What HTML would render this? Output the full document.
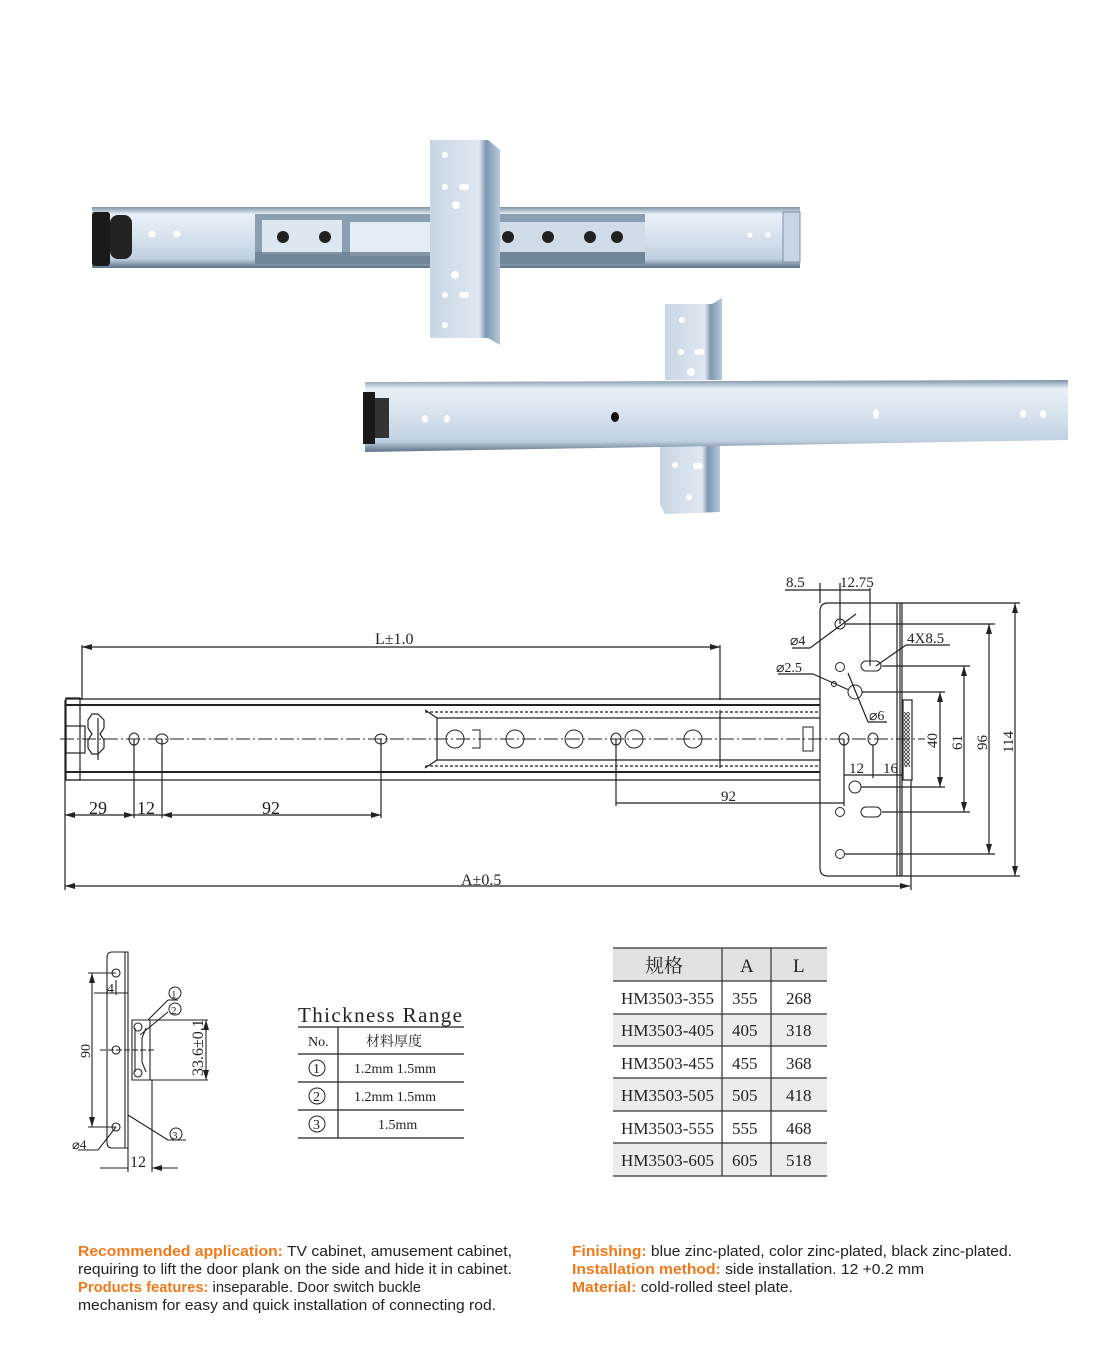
<!DOCTYPE html>
<html><head><meta charset="utf-8"><style>
html,body{margin:0;padding:0;background:#fff}
svg{display:block}
.t{font-family:"Liberation Serif","Noto Serif CJK SC",serif;fill:#222}
.s{font-family:"Liberation Sans",sans-serif;font-size:15px;fill:#222}
.o{fill:#f07a1a;font-weight:bold}
</style></head><body>
<svg width="1111" height="1368" viewBox="0 0 1111 1368" xmlns="http://www.w3.org/2000/svg">
<defs>
<linearGradient id="rail" x1="0" y1="0" x2="0" y2="1">
<stop offset="0" stop-color="#7e94a8"/><stop offset="0.12" stop-color="#e8f0f8"/><stop offset="0.5" stop-color="#d6e2ee"/><stop offset="0.85" stop-color="#c0d0e0"/><stop offset="1" stop-color="#5e7386"/></linearGradient>
<linearGradient id="br" x1="0" y1="0" x2="1" y2="0">
<stop offset="0" stop-color="#c8d6e4"/><stop offset="0.7" stop-color="#dfe8f2"/><stop offset="0.8" stop-color="#7f98b0"/><stop offset="1" stop-color="#b6c8da"/></linearGradient>
<marker id="a" markerWidth="10" markerHeight="6" refX="10" refY="3" orient="auto-start-reverse" markerUnits="userSpaceOnUse"><path d="M0,0 L10,3 L0,6z" fill="#222"/></marker>
<pattern id="h" width="4" height="4" patternUnits="userSpaceOnUse"><path d="M0,4 L4,0 M0,0 L4,4" stroke="#333" stroke-width="0.8"/></pattern>
</defs>

<!-- PHOTO 1 -->
<rect x="92" y="207" width="708" height="61" fill="url(#rail)"/>
<rect x="255" y="214" width="390" height="50" fill="#8a9fb2"/>
<rect x="262" y="220" width="80" height="34" fill="#dde7f1"/>
<rect x="350" y="222" width="80" height="34" fill="#e4ecf4"/>
<rect x="500" y="222" width="145" height="30" fill="#d0dce8"/>
<rect x="255" y="252" width="390" height="12" fill="#6b7f92" opacity="0.8"/>
<circle cx="283" cy="237" r="6" fill="#222"/><circle cx="325" cy="237" r="6" fill="#222"/>
<circle cx="508" cy="237" r="6" fill="#222"/><circle cx="548" cy="237" r="6" fill="#222"/><circle cx="590" cy="237" r="6" fill="#222"/><circle cx="617" cy="237" r="6" fill="#222"/>
<rect x="92" y="212" width="18" height="54" fill="#1a1a1a" rx="3"/>
<rect x="110" y="215" width="22" height="44" rx="8" fill="#222"/>
<circle cx="152" cy="234" r="3.5" fill="#fff"/><circle cx="177" cy="234" r="3.5" fill="#fff"/>
<circle cx="750" cy="235" r="2.5" fill="#fff"/><circle cx="768" cy="235" r="2.5" fill="#fff"/>
<rect x="783" y="212" width="17" height="50" fill="#c7d5e3" stroke="#7d93a8"/>
<path d="M430,140 L488,140 L500,150 L500,345 L488,338 L430,338 Z" fill="url(#br)"/>
<circle cx="445" cy="155" r="3" fill="#fff"/><circle cx="445" cy="187" r="3" fill="#fff"/><rect x="459" y="184" width="10" height="6" rx="3" fill="#fff"/><circle cx="456" cy="205" r="4" fill="#fff"/><circle cx="455" cy="275" r="4" fill="#fff"/><circle cx="445" cy="295" r="3" fill="#fff"/><rect x="459" y="292" width="10" height="6" rx="3" fill="#fff"/><circle cx="445" cy="325" r="3" fill="#fff"/>

<!-- PHOTO 2 -->
<path d="M665,304 L712,304 L722,298 L722,380 L665,380 Z" fill="url(#br)"/>
<path d="M660,440 L720,440 L720,512 L665,514 L660,505 Z" fill="url(#br)"/>
<circle cx="682" cy="320" r="3" fill="#fff"/><circle cx="681" cy="352" r="3" fill="#fff"/><rect x="694" y="349" width="10" height="6" rx="3" fill="#fff"/><circle cx="691" cy="372" r="4" fill="#fff"/>
<circle cx="675" cy="465" r="3" fill="#fff"/><rect x="693" y="463" width="10" height="6" rx="3" fill="#fff"/><circle cx="590" cy="0" r="0"/><circle cx="689" cy="497" r="3" fill="#fff"/>
<path d="M365,382 L1068,380 L1068,440 L365,452 Z" fill="url(#rail)"/>
<rect x="363" y="392" width="12" height="52" fill="#1a1a1a"/><rect x="375" y="398" width="14" height="40" fill="#333"/>
<ellipse cx="425" cy="419" rx="3" ry="4" fill="#fff"/><ellipse cx="447" cy="419" rx="3" ry="4" fill="#fff"/>
<ellipse cx="615" cy="417" rx="4" ry="5" fill="#111"/>
<ellipse cx="876" cy="414" rx="3" ry="5" fill="#fff"/><ellipse cx="1023" cy="414" rx="3" ry="4" fill="#fff"/><ellipse cx="1043" cy="414" rx="3" ry="4" fill="#fff"/>

<!-- MAIN DRAWING -->
<g stroke="#222" fill="none" stroke-width="1.2">
<line x1="82" y1="647" x2="720" y2="647" marker-start="url(#a)" marker-end="url(#a)"/>
<line x1="82" y1="645" x2="82" y2="700"/><line x1="720" y1="645" x2="720" y2="700"/>
<line x1="65" y1="699" x2="820" y2="699"/><line x1="65" y1="705" x2="820" y2="705" stroke-width="2"/>
<line x1="65" y1="772" x2="820" y2="772" stroke-width="2"/><line x1="65" y1="780" x2="820" y2="780"/>
<rect x="66" y="698" width="14" height="82"/><rect x="66" y="726" width="19" height="27"/>
<path d="M92,714 h6 l6,6 v8 l-4,6 l4,6 v8 l-6,6 h-6 l-4,-6 v-8 l4,-6 l-4,-6 v-8z"/>
<line x1="98" y1="718" x2="98" y2="760"/>
<path d="M425,710 L437,718 L437,760 L425,768" />
<line x1="437" y1="718" x2="820" y2="718"/><line x1="437" y1="760" x2="820" y2="760"/>
<line x1="720" y1="710" x2="720" y2="768"/>
<line x1="425" y1="712" x2="820" y2="712" stroke-dasharray="3 2"/><line x1="425" y1="766" x2="820" y2="766" stroke-dasharray="3 2"/>
<g stroke-width="1"><circle cx="455" cy="739" r="9"/><circle cx="515" cy="739" r="9"/><circle cx="574" cy="739" r="9"/><circle cx="634" cy="739" r="9"/><circle cx="693" cy="739" r="9"/>
<path d="M472,730 h8 v18 h-8"/><ellipse cx="616" cy="739" rx="5" ry="6"/><rect x="803" y="727" width="10" height="24"/>
<ellipse cx="134" cy="739" rx="5" ry="6"/><ellipse cx="162" cy="739" rx="6" ry="5"/><ellipse cx="381" cy="739" rx="6" ry="5"/>
<ellipse cx="844" cy="739" rx="5" ry="6"/><ellipse cx="873" cy="739" rx="5" ry="6"/></g>
<line x1="60" y1="739" x2="925" y2="739" stroke-width="0.9" stroke-dasharray="14 3 2 3"/>
<line x1="65" y1="700" x2="65" y2="890"/>
<line x1="134" y1="739" x2="134" y2="818"/><line x1="162" y1="739" x2="162" y2="818"/><line x1="381" y1="739" x2="381" y2="818"/>
<line x1="65" y1="815" x2="134" y2="815" marker-start="url(#a)" marker-end="url(#a)"/>
<line x1="134" y1="815" x2="162" y2="815"/>
<line x1="162" y1="815" x2="381" y2="815" marker-start="url(#a)" marker-end="url(#a)"/>
<line x1="65" y1="886" x2="910" y2="886" marker-start="url(#a)" marker-end="url(#a)"/>
<line x1="911" y1="780" x2="911" y2="890"/>
<line x1="616" y1="739" x2="616" y2="806"/><line x1="844" y1="739" x2="844" y2="806"/>
<line x1="616" y1="803" x2="844" y2="803"/>
<path d="M828,603 H900 V876 H828 Q820,876 820,868 V611 Q820,603 828,603Z"/>
<line x1="897" y1="603" x2="897" y2="876"/><line x1="902" y1="603" x2="902" y2="876"/>
<rect x="903" y="700" width="9" height="80"/><rect x="904" y="712" width="6" height="55" fill="url(#h)" stroke="none"/>
<g stroke-width="1"><circle cx="840" cy="624" r="5"/><circle cx="840" cy="667" r="4.5"/><circle cx="855" cy="692" r="7"/><circle cx="855" cy="787" r="6"/><circle cx="840" cy="812" r="4.5"/><circle cx="840" cy="854" r="4.5"/>
<rect x="861" y="661" width="20" height="10" rx="5"/><rect x="861" y="807" width="20" height="10" rx="5"/><circle cx="834" cy="684" r="2.5"/></g>
<line x1="900" y1="603" x2="1020" y2="603"/><line x1="900" y1="876" x2="1020" y2="876"/>
<line x1="845" y1="624" x2="995" y2="624"/><line x1="845" y1="854" x2="995" y2="854"/>
<line x1="882" y1="666" x2="970" y2="666"/><line x1="882" y1="812" x2="970" y2="812"/>
<line x1="862" y1="692" x2="945" y2="692"/><line x1="861" y1="787" x2="945" y2="787"/>
<line x1="1015" y1="603" x2="1015" y2="876" marker-start="url(#a)" marker-end="url(#a)"/>
<line x1="989" y1="624" x2="989" y2="854" marker-start="url(#a)" marker-end="url(#a)"/>
<line x1="964" y1="666" x2="964" y2="812" marker-start="url(#a)" marker-end="url(#a)"/>
<line x1="940" y1="692" x2="940" y2="787" marker-start="url(#a)" marker-end="url(#a)"/>
<line x1="820" y1="583" x2="820" y2="603"/><line x1="840" y1="583" x2="840" y2="624"/><line x1="870" y1="588" x2="870" y2="666"/>
<line x1="785" y1="590" x2="820" y2="590"/><line x1="820" y1="590" x2="870" y2="590"/>
<line x1="792" y1="648" x2="810" y2="648"/><line x1="810" y1="648" x2="856" y2="614"/>
<line x1="906" y1="645" x2="950" y2="645"/><line x1="906" y1="645" x2="876" y2="666"/>
<line x1="778" y1="674" x2="813" y2="674"/><line x1="813" y1="674" x2="849" y2="690"/>
<line x1="848" y1="673" x2="868" y2="722"/><line x1="868" y1="722" x2="887" y2="722"/>
<line x1="844" y1="775" x2="844" y2="775"/><line x1="873" y1="745" x2="873" y2="778"/>
<line x1="844" y1="775" x2="903" y2="775"/>
</g>
<g class="t" font-size="16">
<text x="375" y="644">L±1.0</text>
<text x="89" y="814" font-size="18">29</text><text x="137" y="814" font-size="18">12</text><text x="262" y="814" font-size="18">92</text>
<text x="461" y="885">A±0.5</text>
<text x="721" y="801" font-size="15">92</text>
<text x="786" y="587" font-size="15">8.5</text><text x="840" y="587" font-size="15">12.75</text>
<text x="790" y="645" font-size="14">⌀4</text><text x="776" y="672" font-size="14">⌀2.5</text>
<text x="907" y="643" font-size="15">4X8.5</text><text x="869" y="720" font-size="14">⌀6</text>
<text x="849" y="773" font-size="15">12</text><text x="883" y="773" font-size="15">16</text>
<text transform="translate(937,748) rotate(-90)" font-size="15">40</text>
<text transform="translate(962,750) rotate(-90)" font-size="15">61</text>
<text transform="translate(987,750) rotate(-90)" font-size="15">96</text>
<text transform="translate(1013,753) rotate(-90)" font-size="15">114</text>
</g>

<!-- SIDE PROFILE -->
<g stroke="#222" fill="none" stroke-width="1.1">
<path d="M112,952 H128 V1148 H112 Q107,1148 107,1142 V958 Q107,952 112,952Z"/><line x1="125" y1="952" x2="125" y2="1148"/>
<circle cx="116" cy="973" r="4"/><circle cx="116" cy="1050" r="4"/><circle cx="116" cy="1127" r="4"/>
<line x1="88" y1="973" x2="116" y2="973"/><line x1="88" y1="1127" x2="116" y2="1127"/>
<line x1="92" y1="973" x2="92" y2="1127" marker-start="url(#a)" marker-end="url(#a)"/>
<line x1="94" y1="993" x2="128" y2="993"/><line x1="107" y1="985" x2="107" y2="995"/><line x1="116" y1="980" x2="116" y2="995"/>
<path d="M132,1020 h18 v60 h-18 z M135,1028 v44 M146,1028 l-4,10 v24 l4,10"/>
<circle cx="138" cy="1027" r="4"/><circle cx="138" cy="1073" r="4"/>
<line x1="100" y1="1050" x2="156" y2="1050" stroke-dasharray="6 2"/>
<line x1="150" y1="1020" x2="208" y2="1020"/><line x1="150" y1="1080" x2="208" y2="1080"/>
<line x1="206" y1="1020" x2="206" y2="1080" marker-start="url(#a)" marker-end="url(#a)"/>
<line x1="148" y1="1020" x2="168" y2="1000"/><line x1="168" y1="1000" x2="178" y2="1000"/>
<line x1="140" y1="1035" x2="168" y2="1012"/>
<line x1="128" y1="1115" x2="168" y2="1140"/><line x1="168" y1="1140" x2="186" y2="1140"/>
<line x1="78" y1="1150" x2="98" y2="1150"/><line x1="98" y1="1150" x2="116" y2="1127"/>
<line x1="128" y1="1148" x2="128" y2="1172"/><line x1="152" y1="1080" x2="152" y2="1172"/>
<line x1="100" y1="1168" x2="128" y2="1168"/><line x1="152" y1="1168" x2="178" y2="1168" marker-start="url(#a)"/>
</g>
<g class="t">
<text x="107" y="993" font-size="14">4</text>
<text transform="translate(90,1058) rotate(-90)" font-size="14">90</text>
<text transform="translate(203,1076) rotate(-90)" font-size="16">33.6±0.1</text>
<text x="72" y="1149" font-size="13">⌀4</text>
<text x="130" y="1167" font-size="16">12</text>
<circle cx="175" cy="993" r="6" fill="none" stroke="#222"/><text x="171" y="998" font-size="11">1</text>
<circle cx="175" cy="1009" r="6" fill="none" stroke="#222"/><text x="171" y="1014" font-size="11">2</text>
<circle cx="176" cy="1134" r="6" fill="none" stroke="#222"/><text x="172" y="1139" font-size="11">3</text>
</g>

<!-- THICKNESS TABLE -->
<text class="t" x="298" y="1022" font-size="21" textLength="164">Thickness Range</text>
<g stroke="#222" stroke-width="1.2"><line x1="298" y1="1027" x2="464" y2="1027"/><line x1="298" y1="1054" x2="464" y2="1054"/><line x1="298" y1="1082" x2="464" y2="1082"/><line x1="298" y1="1110" x2="464" y2="1110"/><line x1="298" y1="1138" x2="464" y2="1138"/><line x1="338" y1="1027" x2="338" y2="1138"/></g>
<g class="t" font-size="14">
<text x="308" y="1046">No.</text><text x="366" y="1046">材料厚度</text>
<circle cx="317" cy="1068" r="8" fill="none" stroke="#222"/><text x="313" y="1073">1</text><text x="354" y="1073">1.2mm 1.5mm</text>
<circle cx="317" cy="1096" r="8" fill="none" stroke="#222"/><text x="313" y="1101">2</text><text x="354" y="1101">1.2mm 1.5mm</text>
<circle cx="317" cy="1124" r="8" fill="none" stroke="#222"/><text x="313" y="1129">3</text><text x="378" y="1129">1.5mm</text>
</g>

<!-- SPEC TABLE -->
<rect x="613" y="948" width="214" height="33" fill="#e2e2e2"/>
<rect x="613" y="1014" width="214" height="32" fill="#ececec"/>
<rect x="613" y="1078" width="214" height="33" fill="#ececec"/>
<rect x="613" y="1143" width="214" height="33" fill="#ececec"/>
<g stroke="#333" stroke-width="1.2">
<line x1="613" y1="948" x2="827" y2="948"/><line x1="613" y1="981" x2="827" y2="981"/><line x1="613" y1="1014" x2="827" y2="1014"/><line x1="613" y1="1046" x2="827" y2="1046"/><line x1="613" y1="1078" x2="827" y2="1078"/><line x1="613" y1="1111" x2="827" y2="1111"/><line x1="613" y1="1143" x2="827" y2="1143"/><line x1="613" y1="1176" x2="827" y2="1176"/>
<line x1="722" y1="948" x2="722" y2="1176"/><line x1="771" y1="948" x2="771" y2="1176"/></g>
<g class="t" font-size="17">
<text x="645" y="972" font-size="19">规格</text><text x="740" y="972" font-size="19">A</text><text x="793" y="972" font-size="19">L</text>
<text x="621" y="1004" textLength="93">HM3503-355</text><text x="732" y="1004">355</text><text x="786" y="1004">268</text>
<text x="621" y="1036" textLength="93">HM3503-405</text><text x="732" y="1036">405</text><text x="786" y="1036">318</text>
<text x="621" y="1069" textLength="93">HM3503-455</text><text x="732" y="1069">455</text><text x="786" y="1069">368</text>
<text x="621" y="1101" textLength="93">HM3503-505</text><text x="732" y="1101">505</text><text x="786" y="1101">418</text>
<text x="621" y="1134" textLength="93">HM3503-555</text><text x="732" y="1134">555</text><text x="786" y="1134">468</text>
<text x="621" y="1166" textLength="93">HM3503-605</text><text x="732" y="1166">605</text><text x="786" y="1166">518</text>
</g>

<!-- BOTTOM TEXT -->
<text class="s" x="78" y="1256" textLength="434" lengthAdjust="spacingAndGlyphs"><tspan class="o">Recommended application:</tspan> TV cabinet, amusement cabinet,</text>
<text class="s" x="78" y="1274" textLength="434" lengthAdjust="spacingAndGlyphs">requiring to lift the door plank on the side and hide it in cabinet.</text>
<text class="s" x="78" y="1292" textLength="343" lengthAdjust="spacingAndGlyphs"><tspan class="o">Products features:</tspan> inseparable. Door switch buckle</text>
<text class="s" x="78" y="1310" textLength="418" lengthAdjust="spacingAndGlyphs">mechanism for easy and quick installation of connecting rod.</text>
<text class="s" x="572" y="1256" textLength="440" lengthAdjust="spacingAndGlyphs"><tspan class="o">Finishing:</tspan> blue zinc-plated, color zinc-plated, black zinc-plated.</text>
<text class="s" x="572" y="1274" textLength="352" lengthAdjust="spacingAndGlyphs"><tspan class="o">Installation method:</tspan> side installation. 12 +0.2 mm</text>
<text class="s" x="572" y="1292" textLength="221" lengthAdjust="spacingAndGlyphs"><tspan class="o">Material:</tspan> cold-rolled steel plate.</text>
</svg>
</body></html>
